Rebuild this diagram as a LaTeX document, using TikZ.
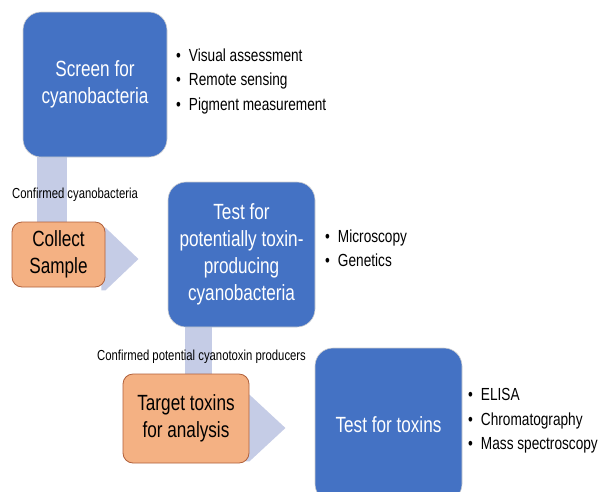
\documentclass[tikz,border=0pt]{standalone}
\usepackage{fontspec}
\setmainfont{Liberation Sans}[FakeStretch=0.78]
\usetikzlibrary{calc,backgrounds}
\definecolor{stepblue}{HTML}{4472C4}
\definecolor{sampleorange}{HTML}{F4B183}
\definecolor{sampleedge}{HTML}{B0603A}
\definecolor{flowgrey}{HTML}{C5CCE6}
\newcommand{\dotitem}{\textbullet\hspace{8pt}}

\begin{document}
\begin{tikzpicture}[x=1pt, y=-1pt,
    stepbox/.style={fill=stepblue, draw=white!82!black, line width=0.6pt,
      rounded corners=18pt, text=white, align=center, inner sep=0pt,
      minimum width=146, minimum height=145, font=\fontsize{22}{27}\selectfont},
    samplebox/.style={fill=sampleorange, draw=sampleedge, line width=0.8pt,
      rounded corners=10pt, align=center, inner sep=0pt,
      font=\fontsize{22}{27}\selectfont},
    bullets/.style={anchor=west, align=left, inner sep=0pt,
      font=\fontsize{17.5}{24.5}\selectfont},
    flowtag/.style={anchor=west, inner sep=0pt, font=\fontsize{14.5}{17}\selectfont},
    flow/.style={fill=flowgrey}]
    \clip (0,0) rectangle (600,491);

    % steps
    \node[stepbox, minimum width=144] (screen) at (95,84.5) {Screen for\\cyanobacteria};
    \node[samplebox, minimum width=93, minimum height=65] (collect) at (58.5,254.5) {Collect\\Sample};
    \node[stepbox, minimum width=147] (potential) at (241.5,254.5)
        {Test for\\potentially toxin-\\producing\\cyanobacteria};
    \node[samplebox, minimum width=126, minimum height=89] (target) at (186,418.5)
        {Target toxins\\for analysis};
    \node[stepbox, minimum width=147, minimum height=154] (toxins) at (388.5,425) {Test for toxins};

    % methods beside each test
    \node[bullets] (screenlist) at (176,81)
        {\dotitem Visual assessment\\\dotitem Remote sensing\\\dotitem Pigment measurement};
    \node[bullets] (potentiallist) at (325,248) {\dotitem Microscopy\\\dotitem Genetics};
    \node[bullets] (toxinslist) at (468,421)
        {\dotitem ELISA\\\dotitem Chromatography\\\dotitem Mass spectroscopy};

    % flow bars and arrows, under the boxes
    \begin{pgfonlayer}{background}
        \fill[white] (0,0) rectangle (600,491);
        \fill[flow] ($(screen.south west)+(14,0)$) rectangle ($(collect.north west)+(55,0)$);
        \fill[flow] ($(collect.north east)+(-4,6)$) -- ($(collect.north east)+(0,6)$)
            -- ($(collect.east)+(33,4.5)$) -- ($(collect.south east)+(0,3)$)
            -- ($(collect.south east)+(-4,3)$) -- cycle;
        \fill[flow] ($(potential.south west)+(17,0)$) rectangle ($(target.north west)+(89,0)$);
        \fill[flow] ($(target.north east)+(-4,21)$) -- ($(target.north east)+(0,21)$)
            -- ($(target.east)+(36,9.5)$) -- ($(target.south east)+(0,-2)$)
            -- ($(target.south east)+(-4,-2)$) -- cycle;
    \end{pgfonlayer}

    % what passes along the bars
    \node[flowtag] (found) at (12,195) {Confirmed cyanobacteria};
    \node[flowtag] (producers) at (97,357) {Confirmed potential cyanotoxin producers};
\end{tikzpicture}
\end{document}
